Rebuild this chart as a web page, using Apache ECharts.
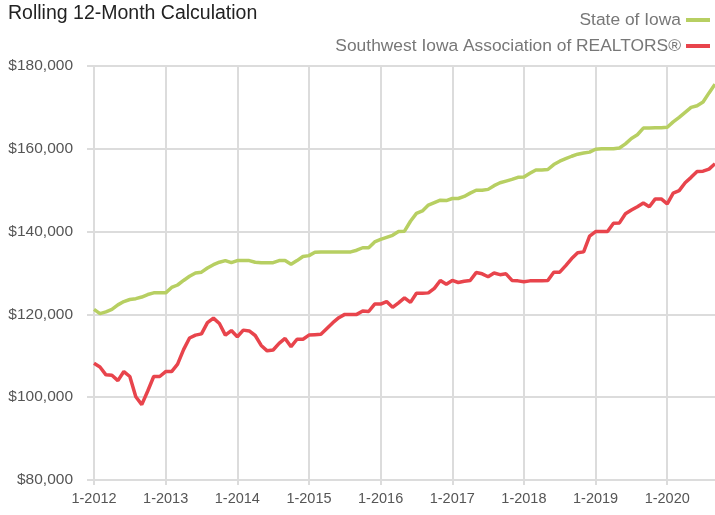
<!DOCTYPE html>
<html>
<head>
<meta charset="utf-8">
<script src="https://cdn.jsdelivr.net/npm/echarts@6/dist/echarts.min.js"></script>
<style>
  html, body { margin: 0; padding: 0; background: #fff; }
  #chart { width: 715px; height: 515px; }
</style>
</head>
<body>
<div id="chart"></div>
<script>
// monthly, 1-2012 .. 9-2020 (thousands of dollars)
const stateOfIowa = [
  121.2, 120.2, 120.6, 121.2, 122.3, 123.1, 123.6, 123.8, 124.2, 124.8, 125.2, 125.2,
  125.2, 126.5, 127.1, 128.2, 129.2, 130.0, 130.2, 131.2, 132.0, 132.6, 133.0, 132.5,
  133.0, 133.0, 133.0, 132.6, 132.5, 132.5, 132.5, 133.0, 133.0, 132.1, 133.0, 134.0,
  134.2, 135.0, 135.1, 135.1, 135.1, 135.1, 135.1, 135.1, 135.5, 136.1, 136.1, 137.5,
  138.1, 138.6, 139.1, 140.0, 140.1, 142.5, 144.4, 145.0, 146.4, 147.0, 147.6, 147.5,
  148.0, 148.0, 148.5, 149.3, 150.0, 150.0, 150.2, 151.1, 151.8, 152.2, 152.6, 153.1,
  153.2, 154.1, 154.9, 154.9, 155.0, 156.2, 157.0, 157.6, 158.2, 158.7, 159.0, 159.2,
  159.9, 160.0, 160.0, 160.0, 160.2, 161.2, 162.5, 163.4, 165.0, 165.0, 165.1, 165.1,
  165.2, 166.5, 167.6, 168.8, 170.0, 170.4, 171.3, 173.5, 175.6
]
const southwestIowa = [
  108.2, 107.3, 105.4, 105.3, 104.0, 106.2, 105.0, 100.1, 98.2, 101.5, 105.0, 105.0,
  106.2, 106.2, 108.0, 111.5, 114.3, 115.0, 115.3, 118.0, 119.1, 117.8, 115.0, 116.1,
  114.6, 116.2, 116.0, 114.9, 112.5, 111.2, 111.4, 113.0, 114.2, 112.2, 114.0, 114.0,
  115.0, 115.1, 115.2, 116.6, 118.0, 119.2, 120.0, 120.0, 120.0, 120.8, 120.7, 122.5,
  122.5, 123.1, 121.7, 122.8, 124.0, 122.9, 125.1, 125.1, 125.2, 126.3, 128.2, 127.3,
  128.2, 127.7, 128.0, 128.2, 130.1, 129.8, 129.1, 130.0, 129.6, 129.8, 128.2, 128.1,
  127.9, 128.1, 128.1, 128.1, 128.2, 130.2, 130.2, 131.8, 133.5, 134.9, 135.1, 138.9,
  140.0, 140.0, 140.0, 142.0, 142.1, 144.3, 145.2, 146.0, 146.9, 146.0, 147.9, 147.9,
  146.7, 149.3, 149.9, 151.8, 153.1, 154.5, 154.6, 155.1, 156.4
]
const firstYear = 2012
const yTicks = { min: 80000, max: 180000, step: 20000 }

const months = []
for (let i = 0; i < stateOfIowa.length; i++) {
  months.push((i % 12 + 1) + '-' + (firstYear + Math.floor(i / 12)))
}

const FONT = '"Liberation Sans", Arial, sans-serif'
const GREEN = '#b7cf62'
const RED = '#e8444c'
const GRID = '#dcdcdc'
const yearOnly = (i) => i % 12 === 0

const chart = echarts.init(document.getElementById('chart'))
chart.setOption({
  animation: false,
  title: {
    text: 'Rolling 12-Month Calculation',
    left: 3, top: -1,
    textStyle: { fontFamily: FONT, fontSize: 19.5, fontWeight: 'normal', color: '#222' }
  },
  legend: {
    orient: 'vertical',
    right: 0, top: 6,
    align: 'right',
    icon: 'rect',
    itemWidth: 24, itemHeight: 4,
    itemGap: 8,
    textStyle: { fontFamily: FONT, fontSize: 17.4, color: '#777', lineHeight: 18 },
    data: ['State of Iowa', 'Southwest Iowa Association of REALTORS®']
  },
  grid: { left: 94, right: 0, top: 66, bottom: 35, containLabel: false },
  xAxis: {
    type: 'category',
    boundaryGap: false,
    data: months,
    axisLine: { lineStyle: { color: GRID, width: 2 } },
    axisTick: { show: true, length: 5, interval: yearOnly, lineStyle: { color: GRID, width: 2 } },
    axisLabel: {
      interval: yearOnly,
      margin: 11,
      fontFamily: FONT, fontSize: 14.5, color: '#555'
    },
    splitLine: { show: true, interval: yearOnly, lineStyle: { color: GRID, width: 2 } }
  },
  yAxis: {
    type: 'value',
    min: yTicks.min, max: yTicks.max, interval: yTicks.step,
    axisLine: { show: false },
    axisTick: { show: true, length: 7, lineStyle: { color: GRID, width: 2 } },
    axisLabel: {
      margin: 21,
      fontFamily: FONT, fontSize: 15.5, color: '#555',
      formatter: (v) => '$' + v.toLocaleString('en-US')
    },
    splitLine: { lineStyle: { color: GRID, width: 2 } }
  },
  series: [
    {
      name: 'State of Iowa',
      type: 'line',
      data: stateOfIowa.map(v => v * 1000),
      symbol: 'none',
      lineStyle: { width: 3.5, color: GREEN },
      itemStyle: { color: GREEN }
    },
    {
      name: 'Southwest Iowa Association of REALTORS®',
      type: 'line',
      data: southwestIowa.map(v => v * 1000),
      symbol: 'none',
      lineStyle: { width: 3.5, color: RED },
      itemStyle: { color: RED }
    }
  ]
})
</script>
</body>
</html>
